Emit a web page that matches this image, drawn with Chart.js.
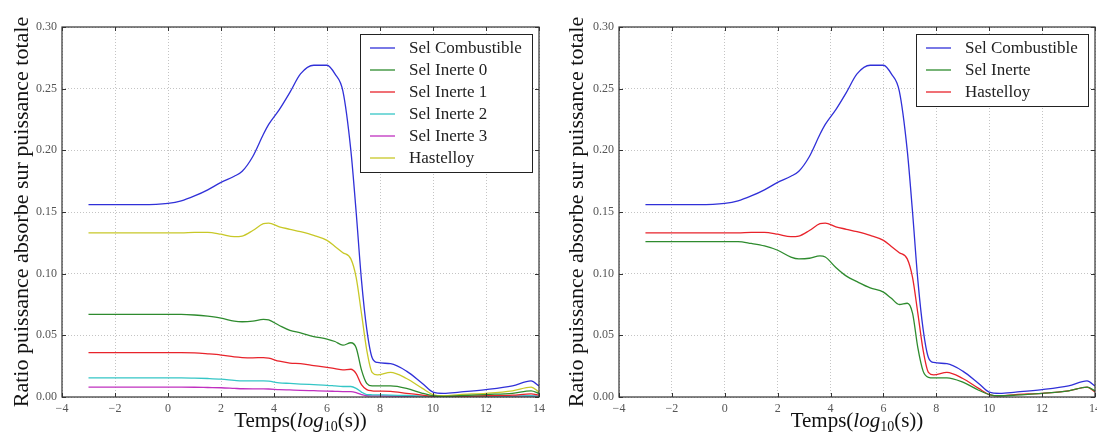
<!DOCTYPE html>
<html>
<head>
<meta charset="utf-8">
<script src="https://cdn.jsdelivr.net/npm/chart.js@4.4.1/dist/chart.umd.min.js"></script>
<style>
html, body { margin: 0; padding: 0; background: #fff; }
#wrap { position: relative; width: 1097px; height: 432px; }
.box { position: absolute; top: 0; height: 432px; }
</style>
</head>
<body>
<div id="wrap">
  <div class="box" style="left:0;width:548px"><canvas id="left"></canvas></div>
  <div class="box" style="left:548px;width:549px"><canvas id="right"></canvas></div>
</div>
<script>
// time axis, log10(s)
const tX = [-3, -2, -1, 0, 0.5, 1, 1.5, 2, 2.5, 2.8, 3.2, 3.6, 3.8, 4.2, 4.6, 5, 5.5, 6, 6.3, 6.6, 6.9, 7.1, 7.3, 7.5, 7.7, 7.9, 8.4, 9, 9.6, 10, 10.4, 11, 12, 13, 13.7, 14];

const selCombustible = [0.156, 0.156, 0.156, 0.157, 0.159, 0.163, 0.168, 0.174, 0.179, 0.183, 0.195, 0.213, 0.221, 0.233, 0.247, 0.262, 0.269, 0.269, 0.262, 0.248, 0.200, 0.150, 0.095, 0.055, 0.032, 0.028, 0.027, 0.021, 0.011, 0.004, 0.003, 0.004, 0.006, 0.009, 0.013, 0.009];
const selInerte0 = [0.067, 0.067, 0.067, 0.067, 0.067, 0.0665, 0.0655, 0.064, 0.0615, 0.061, 0.0615, 0.063, 0.0625, 0.058, 0.054, 0.052, 0.049, 0.047, 0.045, 0.042, 0.044, 0.040, 0.022, 0.011, 0.009, 0.009, 0.009, 0.007, 0.003, 0.001, 0.0005, 0.001, 0.002, 0.003, 0.005, 0.003];
const selInerte1 = [0.036, 0.036, 0.036, 0.036, 0.036, 0.0358, 0.035, 0.034, 0.0325, 0.032, 0.0318, 0.032, 0.0315, 0.029, 0.0275, 0.027, 0.0255, 0.024, 0.023, 0.022, 0.0225, 0.019, 0.010, 0.006, 0.005, 0.0048, 0.0045, 0.003, 0.0015, 0.0005, 0.0003, 0.0005, 0.001, 0.0015, 0.0025, 0.0015];
const selInerte2 = [0.0155, 0.0155, 0.0155, 0.0155, 0.0155, 0.0153, 0.015, 0.0145, 0.0135, 0.013, 0.013, 0.013, 0.0128, 0.0115, 0.011, 0.0105, 0.010, 0.0095, 0.009, 0.0085, 0.0085, 0.007, 0.004, 0.002, 0.0018, 0.0017, 0.0016, 0.0012, 0.0006, 0.0002, 0.0002, 0.0003, 0.0005, 0.0007, 0.001, 0.0006];
const selInerte3 = [0.008, 0.008, 0.008, 0.008, 0.008, 0.0079, 0.0077, 0.0075, 0.007, 0.0067, 0.0066, 0.0066, 0.0065, 0.006, 0.0057, 0.0054, 0.0051, 0.0048, 0.0046, 0.0044, 0.0044, 0.0036, 0.002, 0.001, 0.0009, 0.0009, 0.0008, 0.0006, 0.0003, 0.0001, 0.0001, 0.0002, 0.0003, 0.0005, 0.0008, 0.0005];
const hastelloy = [0.133, 0.133, 0.133, 0.133, 0.133, 0.1335, 0.1335, 0.132, 0.130, 0.1305, 0.135, 0.1405, 0.141, 0.138, 0.136, 0.134, 0.131, 0.127, 0.122, 0.117, 0.112, 0.097, 0.068, 0.038, 0.020, 0.018, 0.020, 0.015, 0.007, 0.002, 0.001, 0.002, 0.003, 0.005, 0.008, 0.004];
const selInerte = [0.126, 0.126, 0.126, 0.126, 0.126, 0.1245, 0.1225, 0.119, 0.1135, 0.112, 0.1125, 0.1145, 0.1135, 0.105, 0.098, 0.0935, 0.0885, 0.085, 0.080, 0.075, 0.076, 0.068, 0.040, 0.021, 0.016, 0.0155, 0.0155, 0.012, 0.0055, 0.002, 0.001, 0.0015, 0.003, 0.005, 0.008, 0.005];

const xTicks = [-4, -2, 0, 2, 4, 6, 8, 10, 12, 14];
const yTicks = [0, 0.05, 0.10, 0.15, 0.20, 0.25, 0.30];

const SERIF = '"Liberation Serif", "DejaVu Serif", serif';
const C = { blue: '#3030d8', green: '#2e8b2e', red: '#e8232b', cyan: '#35c6c6', magenta: '#c030c0', yellow: '#c8c828' };

function pts(ys){ return tX.map((x, i) => ({ x: x, y: ys[i] })); }
function line(label, ys, color){
    return { label: label, data: pts(ys), borderColor: color, backgroundColor: color, borderWidth: 1.3,
             pointRadius: 0, cubicInterpolationMode: 'monotone', fill: false };
}

// frame around the plot + inward tick marks (matplotlib classic look)
const frame = {
    id: 'frame',
    afterDatasetsDraw(chart){
        const ctx = chart.ctx, a = chart.chartArea, sx = chart.scales.x, sy = chart.scales.y;
        ctx.save();
        ctx.strokeStyle = '#333'; ctx.lineWidth = 1.2;
        ctx.strokeRect(a.left, a.top, a.right - a.left, a.bottom - a.top);
        ctx.lineWidth = 1;
        ctx.beginPath();
        xTicks.forEach(v => {
            const px = Math.round(sx.getPixelForValue(v)) + 0.5;
            ctx.moveTo(px, a.bottom); ctx.lineTo(px, a.bottom - 4);
            ctx.moveTo(px, a.top); ctx.lineTo(px, a.top + 4);
        });
        yTicks.forEach(v => {
            const py = Math.round(sy.getPixelForValue(v)) + 0.5;
            ctx.moveTo(a.left, py); ctx.lineTo(a.left + 4, py);
            ctx.moveTo(a.right, py); ctx.lineTo(a.right - 4, py);
        });
        ctx.stroke();
        ctx.restore();
    }
};

// boxed legend in the upper right, line samples
const boxLegend = {
    id: 'boxLegend',
    afterDraw(chart){
        const ctx = chart.ctx, a = chart.chartArea, ds = chart.data.datasets;
        ctx.save();
        ctx.font = '17px ' + SERIF;
        let tw = 0;
        ds.forEach(d => { tw = Math.max(tw, ctx.measureText(d.label).width); });
        const w = Math.max(172, 49 + tw + 8), h = ds.length * 22 + 6;
        const x0 = Math.round(a.right - 7 - w), y0 = Math.round(a.top + 7);
        ctx.fillStyle = '#fff';
        ctx.fillRect(x0, y0, w, h);
        ctx.strokeStyle = '#222'; ctx.lineWidth = 1;
        ctx.strokeRect(x0 + 0.5, y0 + 0.5, w, h);
        ctx.textBaseline = 'middle';
        ds.forEach((d, i) => {
            const cy = y0 + 14 + i * 22;
            ctx.strokeStyle = d.borderColor; ctx.lineWidth = 1.3;
            ctx.beginPath(); ctx.moveTo(x0 + 10, cy); ctx.lineTo(x0 + 35, cy); ctx.stroke();
            ctx.fillStyle = '#222';
            ctx.fillText(d.label, x0 + 49, cy + 1);
        });
        ctx.restore();
    }
};

// x axis title with italic log and subscript 10
const xTitle = {
    id: 'xTitle',
    afterDraw(chart){
        const ctx = chart.ctx, a = chart.chartArea;
        const parts = [
            { t: 'Temps(', f: '21px ' + SERIF, dy: 0 },
            { t: 'log', f: 'italic 21px ' + SERIF, dy: 0 },
            { t: '10', f: '14px ' + SERIF, dy: 4 },
            { t: '(s))', f: '21px ' + SERIF, dy: 0 }
        ];
        ctx.save();
        ctx.textBaseline = 'alphabetic';
        ctx.fillStyle = '#111';
        let total = 0;
        parts.forEach(p => { ctx.font = p.f; p.w = ctx.measureText(p.t).width; total += p.w; });
        let x = (a.left + a.right) / 2 - total / 2;
        const y = chart.height - 5;
        parts.forEach(p => { ctx.font = p.f; ctx.fillText(p.t, x, y + p.dy); x += p.w; });
        ctx.restore();
    }
};

function makeChart(id, datasets, yWidth, titlePad, padRight){
    return new Chart(document.getElementById(id), {
        type: 'line',
        data: { datasets: datasets },
        options: {
            responsive: true,
            maintainAspectRatio: false,
            animation: false,
            layout: { padding: { top: 27, right: padRight, left: 0, bottom: 0 } },
            plugins: { legend: { display: false }, tooltip: { enabled: false } },
            scales: {
                x: {
                    type: 'linear', min: -4, max: 14,
                    afterBuildTicks: s => { s.ticks = xTicks.map(v => ({ value: v })); },
                    afterFit: s => { s.height = 35; s.paddingLeft = 0; s.paddingRight = 0; },
                    ticks: {
                        callback: v => (v < 0 ? '\u2212' + Math.abs(v) : String(v)),
                        font: { family: SERIF, size: 12 }, color: '#555', padding: 5, maxRotation: 0
                    },
                    grid: { color: '#c4c4c4', lineWidth: 1, drawTicks: false },
                    border: { display: false, dash: [1, 2] }
                },
                y: {
                    min: 0, max: 0.30,
                    afterBuildTicks: s => { s.ticks = yTicks.map(v => ({ value: v })); },
                    afterFit: s => { s.width = yWidth; },
                    ticks: {
                        callback: v => Number(v).toFixed(2),
                        font: { family: SERIF, size: 12 }, color: '#555', padding: 5
                    },
                    grid: { color: '#c4c4c4', lineWidth: 1, drawTicks: false },
                    border: { display: false, dash: [1, 2] },
                    title: {
                        display: true, text: 'Ratio puissance absorbe sur puissance totale',
                        font: { family: SERIF, size: 22 }, color: '#111',
                        padding: { top: titlePad, bottom: 0 }
                    }
                }
            }
        },
        plugins: [frame, boxLegend, xTitle]
    });
}

makeChart('left', [
    line('Sel Combustible', selCombustible, C.blue),
    line('Sel Inerte 0', selInerte0, C.green),
    line('Sel Inerte 1', selInerte1, C.red),
    line('Sel Inerte 2', selInerte2, C.cyan),
    line('Sel Inerte 3', selInerte3, C.magenta),
    line('Hastelloy', hastelloy, C.yellow)
], 62, 9, 9);

makeChart('right', [
    line('Sel Combustible', selCombustible, C.blue),
    line('Sel Inerte', selInerte, C.green),
    line('Hastelloy', hastelloy, C.red)
], 71, 16, 2);
</script>
</body>
</html>
